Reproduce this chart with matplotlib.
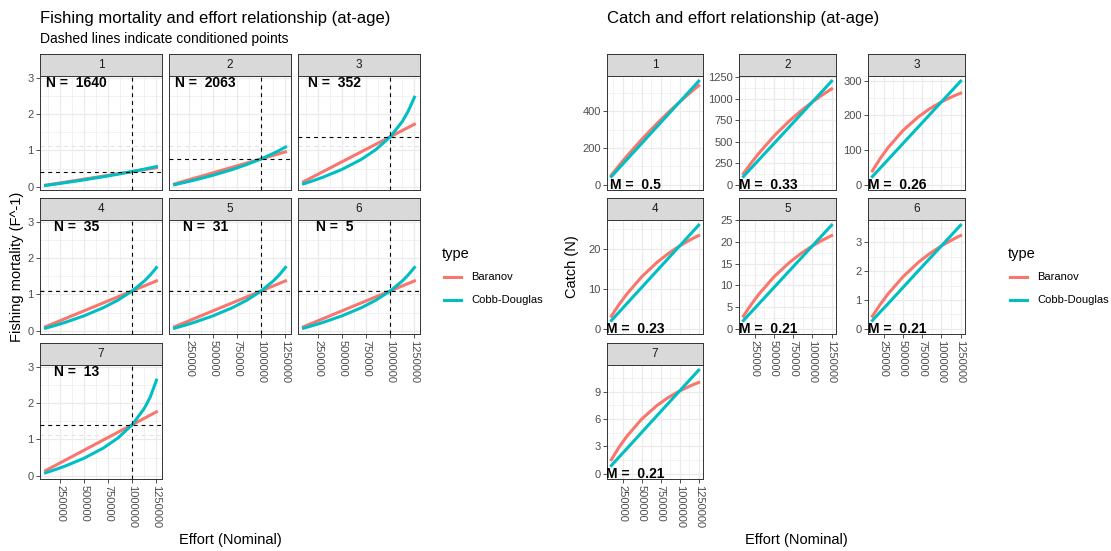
import numpy as np
import matplotlib.pyplot as plt
from matplotlib.lines import Line2D

plt.rcParams['font.family'] = ['Liberation Sans', 'DejaVu Sans']

# values
effort = [100000, 200000, 300000, 500000, 700000, 850000, 1000000, 1125000, 1187500, 1250000]
ages = ['1', '2', '3', '4', '5', '6', '7']
n_age = [1640, 2063, 352, 35, 31, 5, 13]
m_age = [0.5, 0.33, 0.26, 0.23, 0.21, 0.21, 0.21]
f_ref = [0.42, 0.77, 1.38, 1.1, 1.1, 1.1, 1.41]
e_ref = 1000000

f_baranov = [
    [0.042, 0.084, 0.126, 0.21, 0.294, 0.357, 0.42, 0.473, 0.499, 0.525],
    [0.077, 0.154, 0.231, 0.385, 0.539, 0.655, 0.77, 0.866, 0.914, 0.963],
    [0.138, 0.276, 0.414, 0.69, 0.966, 1.173, 1.38, 1.553, 1.639, 1.725],
    [0.11, 0.22, 0.33, 0.55, 0.77, 0.935, 1.1, 1.238, 1.306, 1.375],
    [0.11, 0.22, 0.33, 0.55, 0.77, 0.935, 1.1, 1.238, 1.306, 1.375],
    [0.11, 0.22, 0.33, 0.55, 0.77, 0.935, 1.1, 1.238, 1.306, 1.375],
    [0.141, 0.282, 0.423, 0.705, 0.987, 1.199, 1.41, 1.586, 1.674, 1.763],
]
f_cobb = [
    [0.036, 0.072, 0.110, 0.190, 0.276, 0.346, 0.42, 0.486, 0.520, 0.556],
    [0.056, 0.116, 0.179, 0.317, 0.476, 0.614, 0.77, 0.921, 1.004, 1.096],
    [0.080, 0.167, 0.261, 0.480, 0.756, 1.024, 1.38, 1.804, 2.097, 2.47],
    [0.070, 0.146, 0.227, 0.412, 0.637, 0.843, 1.1, 1.374, 1.542, 1.742],
    [0.070, 0.146, 0.227, 0.412, 0.636, 0.843, 1.1, 1.375, 1.545, 1.746],
    [0.070, 0.146, 0.227, 0.412, 0.636, 0.843, 1.1, 1.375, 1.545, 1.746],
    [0.080, 0.168, 0.263, 0.484, 0.765, 1.04, 1.41, 1.862, 2.183, 2.636],
]
c_baranov = [
    [53.2, 104.3, 153.6, 246.6, 332.8, 393.3, 450.3, 495.6, 517.5, 538.6],
    [130.5, 251.9, 364.8, 567.5, 743.0, 859.1, 963.4, 1042.1, 1078.9, 1114.5],
    [40.1, 75.2, 106.0, 156.8, 195.9, 219.4, 238.7, 252.3, 258.3, 263.9],
    [3.19, 6.08, 8.66, 13.10, 16.70, 18.94, 20.86, 22.26, 22.89, 23.48],
    [2.93, 5.56, 7.94, 11.99, 15.27, 17.33, 19.08, 20.35, 20.92, 21.46],
    [0.44, 0.84, 1.20, 1.81, 2.31, 2.62, 2.88, 3.07, 3.16, 3.24],
    [1.55, 2.90, 4.07, 6.00, 7.48, 8.36, 9.08, 9.57, 9.80, 10.0],
]
c_cobb = [
    [45.0, 90.1, 135.1, 225.2, 315.2, 382.8, 450.3, 506.6, 534.7, 562.9],
    [96.3, 192.7, 289.0, 481.7, 674.4, 818.9, 963.4, 1083.8, 1144.0, 1204.3],
    [23.9, 47.7, 71.6, 119.4, 167.1, 202.9, 238.7, 268.5, 283.5, 298.4],
    [2.09, 4.17, 6.26, 10.43, 14.60, 17.73, 20.86, 23.47, 24.77, 26.08],
    [1.91, 3.82, 5.72, 9.54, 13.36, 16.22, 19.08, 21.47, 22.66, 23.85],
    [0.29, 0.58, 0.86, 1.44, 2.02, 2.45, 2.88, 3.24, 3.42, 3.60],
    [0.91, 1.82, 2.72, 4.54, 6.36, 7.72, 9.08, 10.22, 10.78, 11.35],
]
catch_ticks = [[0, 200, 400], [0, 250, 500, 750, 1000, 1250], [0, 100, 200, 300],
               [0, 10, 20], [0, 5, 10, 15, 20, 25], [0, 1, 2, 3], [0, 3, 6, 9]]
x_ticks = [250000, 500000, 750000, 1000000, 1250000]
type_names = ['Baranov', 'Cobb-Douglas']
type_cols = ['#F8766D', '#00BFC4']

W, H = 1111, 551
fig = plt.figure(figsize=(W / 100, H / 100), dpi=100)

row_top = [54, 198, 343]
strip_h, panel_h = 22, 114
left_cols = [(40, 162), (169, 291), (298, 420)]
right_cols = [(607, 703), (739, 836), (868, 965)]
xlim = (42500, 1307500)


def box(x0, y0, x1, y1):
    return [x0 / W, 1 - y1 / H, (x1 - x0) / W, (y1 - y0) / H]


def facet(x0, x1, row, label, xlab, ylab, yt, ylim):
    top = row_top[row]
    st = fig.add_axes(box(x0, top, x1, top + strip_h))
    st.set_facecolor('#D9D9D9')
    st.set_xticks([])
    st.set_yticks([])
    for s in st.spines.values():
        s.set_color('#333333')
        s.set_linewidth(0.7)
    st.text(0.5, 0.5, label, ha='center', va='center', fontsize=8.5,
            color='#1A1A1A', transform=st.transAxes)

    ax = fig.add_axes(box(x0, top + strip_h, x1, top + strip_h + panel_h))
    ax.set_xticks(x_ticks)
    ax.set_xticks([125000, 375000, 625000, 875000, 1125000], minor=True)
    ax.set_xticklabels([str(v) for v in x_ticks], rotation=-90)
    ax.set_yticks(yt)
    step = yt[1] - yt[0]
    ax.set_yticks([v + step / 2 for v in yt], minor=True)
    ax.set_yticklabels([str(v) for v in yt])
    ax.set_xlim(*xlim)
    ax.set_ylim(*ylim)
    ax.grid(which='major', color='#EBEBEB', lw=0.9)
    ax.grid(which='minor', color='#EBEBEB', lw=0.45)
    ax.set_axisbelow(True)
    ax.tick_params(which='minor', length=0)
    ax.tick_params(which='major', length=3, width=0.6, color='#333333',
                   labelsize=8, labelcolor='#4D4D4D', pad=1.5)
    if not xlab:
        ax.tick_params(axis='x', which='major', length=0, labelbottom=False)
    if not ylab:
        ax.tick_params(axis='y', which='major', length=0, labelleft=False)
    for s in ax.spines.values():
        s.set_color('#333333')
        s.set_linewidth(0.7)
    return ax


# positions of the 7 facets (row, col) and which get x labels
spots = [(0, 0), (0, 1), (0, 2), (1, 0), (1, 1), (1, 2), (2, 0)]
xlab_on = [False, False, False, False, True, True, True]

dash = (0, (3.5, 3.5))
for i, (r, c) in enumerate(spots):
    ax = facet(left_cols[c][0], left_cols[c][1], r, ages[i], xlab_on[i], c == 0,
               [0, 1, 2, 3], (-0.09, 3.055))
    ax.axhline(1.12, color='#E2E2E2', ls=dash, lw=0.8, zorder=1.5)
    ax.plot(effort, f_baranov[i], color=type_cols[0], lw=2.2, zorder=3)
    ax.plot(effort, f_cobb[i], color=type_cols[1], lw=2.2, zorder=3)
    ax.axvline(e_ref, color='black', ls=dash, lw=0.8, zorder=4)
    ax.axhline(f_ref[i], color='black', ls=dash, lw=0.8, zorder=4)
    ax.text(420000, 2.86, 'N =  %d' % n_age[i], ha='center', va='center',
            fontsize=10, fontweight='bold', zorder=5)

for i, (r, c) in enumerate(spots):
    top = max(c_cobb[i] + c_baranov[i])
    ax = facet(right_cols[c][0], right_cols[c][1], r, ages[i], xlab_on[i], True,
               catch_ticks[i], (-0.05 * top, top * 1.05))
    ax.plot(effort, c_baranov[i], color=type_cols[0], lw=2.2, zorder=3)
    ax.plot(effort, c_cobb[i], color=type_cols[1], lw=2.2, zorder=3)
    ax.text(420000, 0, 'M =  %s' % m_age[i], ha='center', va='center',
            fontsize=10, fontweight='bold', zorder=5, clip_on=True)

# titles and axis labels
fig.text(40 / W, 1 - 23 / H, 'Fishing mortality and effort relationship (at-age)',
         fontsize=12, va='baseline')
fig.text(40 / W, 1 - 43 / H, 'Dashed lines indicate conditioned points',
         fontsize=10, va='baseline')
fig.text(607 / W, 1 - 23 / H, 'Catch and effort relationship (at-age)',
         fontsize=12, va='baseline')
fig.text(17 / W, 1 - 267 / H, 'Fishing mortality (F^-1)', rotation=90,
         ha='center', va='center', fontsize=10.5)
fig.text(572 / W, 1 - 267 / H, 'Catch (N)', rotation=90,
         ha='center', va='center', fontsize=10.5)
fig.text(230 / W, 1 - 540 / H, 'Effort (Nominal)', ha='center', va='center', fontsize=10.5)
fig.text(796 / W, 1 - 540 / H, 'Effort (Nominal)', ha='center', va='center', fontsize=10.5)

# legends
for lx in [442, 1008]:
    fig.text(lx / W, 1 - 254 / H, 'type', fontsize=10.5, va='center')
    for k in range(2):
        yy = 1 - (277 + 23 * k) / H
        fig.add_artist(Line2D([(lx + 2) / W, (lx + 19) / W], [yy, yy],
                              color=type_cols[k], lw=2.2, transform=fig.transFigure))
        fig.text((lx + 29) / W, yy, type_names[k], fontsize=8, va='center')

plt.savefig('out.png', dpi=100)
